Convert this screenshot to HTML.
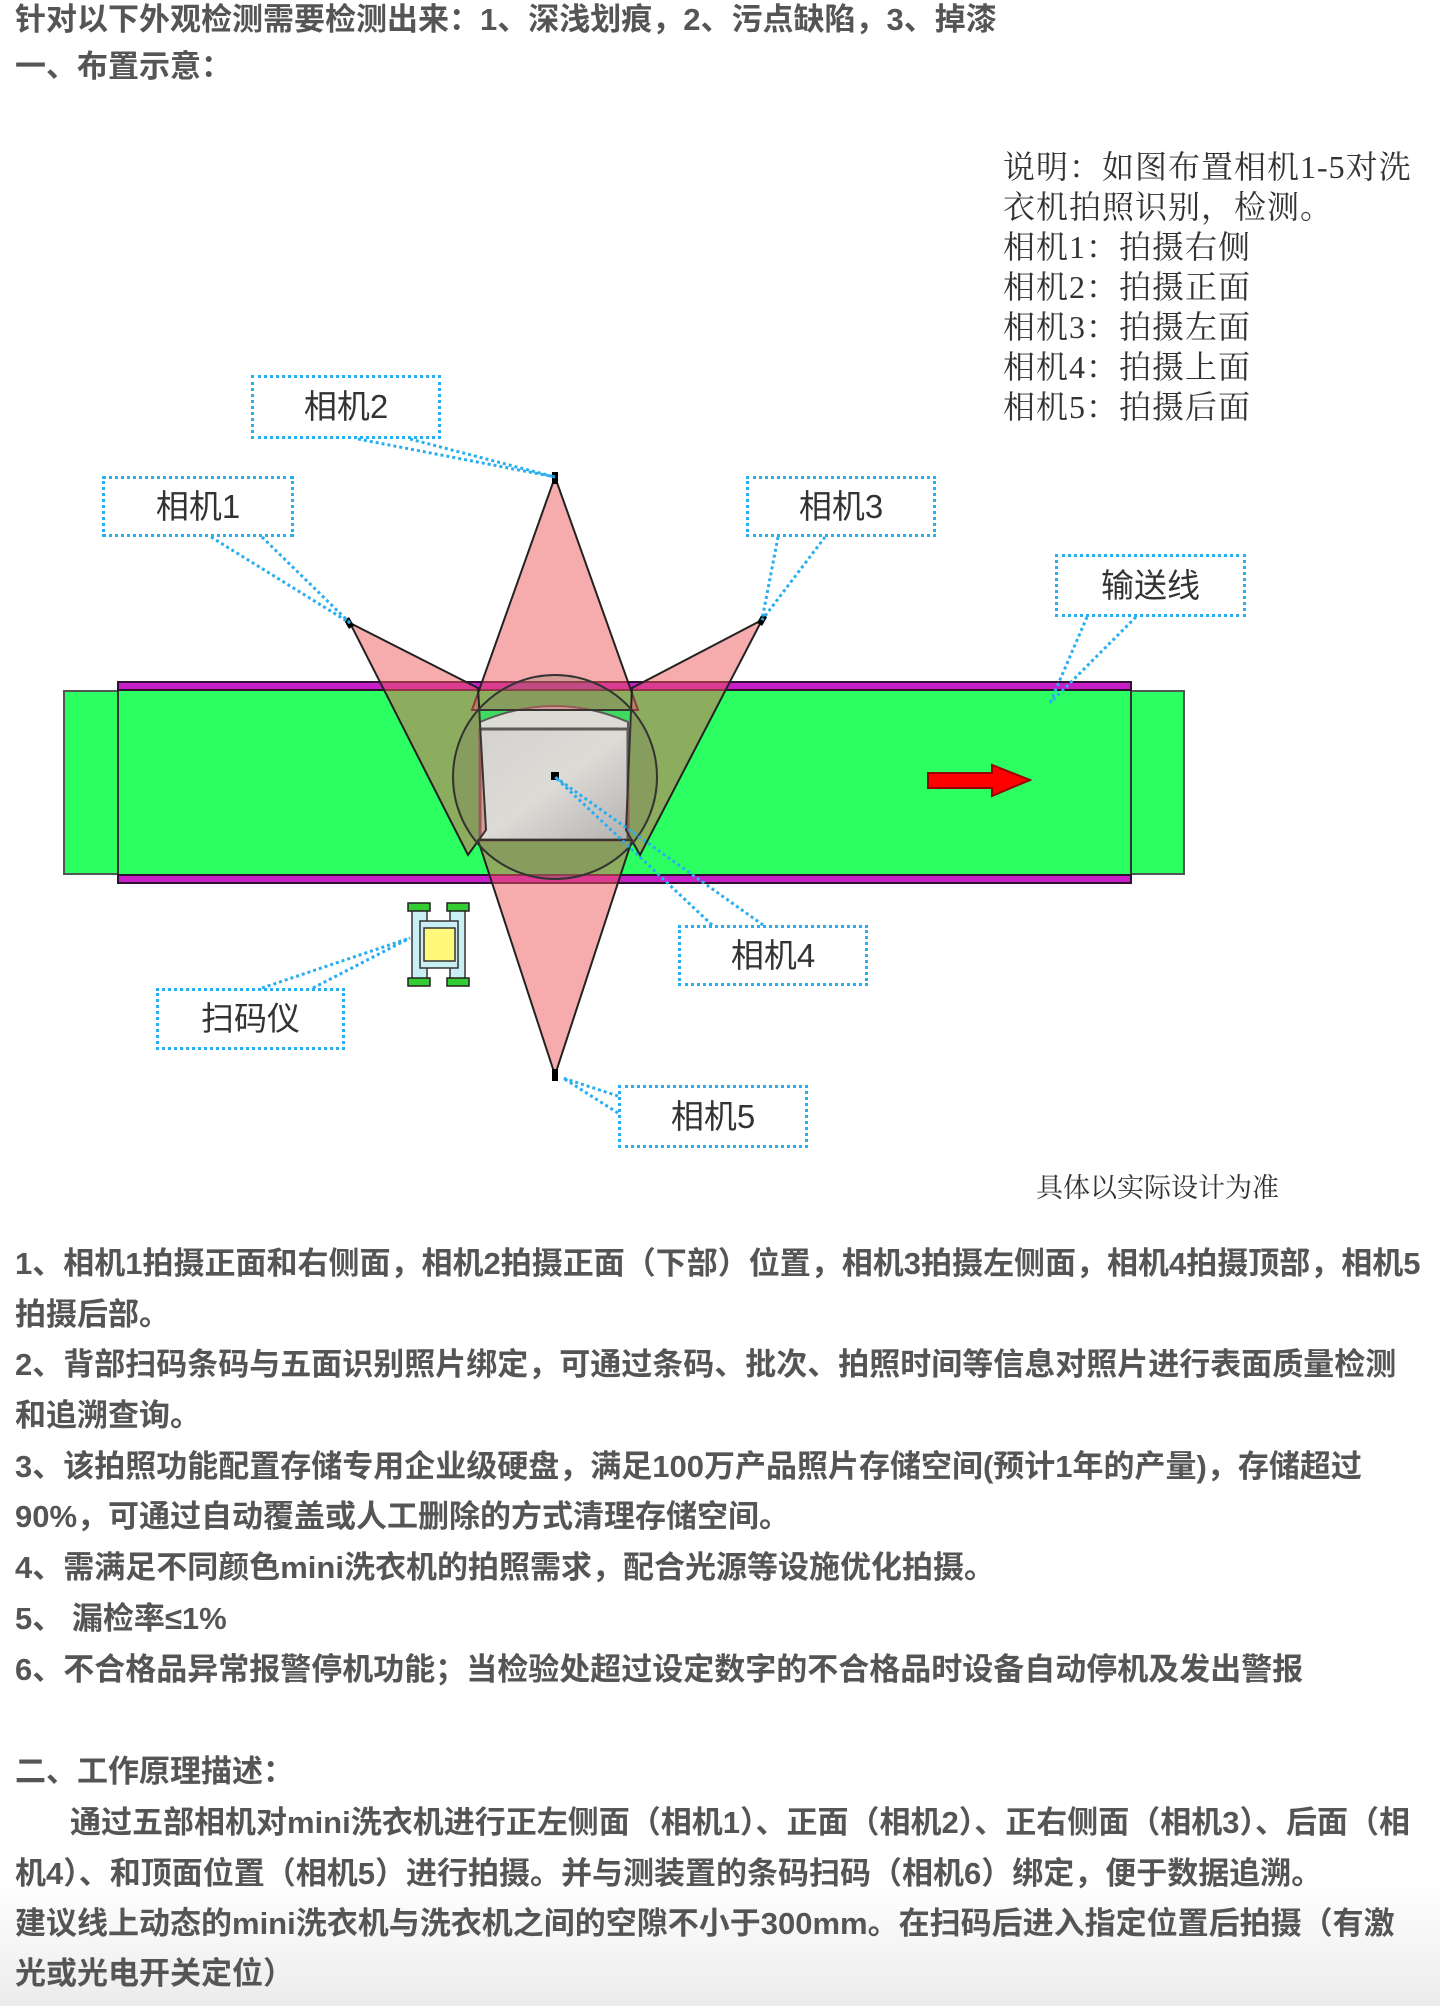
<!DOCTYPE html>
<html><head><meta charset="utf-8"><style>
html,body{margin:0;padding:0;background:#fff;}
body{width:1440px;height:2006px;position:relative;overflow:hidden;}
.t{position:absolute;left:15px;white-space:nowrap;font-family:"Liberation Sans","Noto Sans CJK SC",sans-serif;font-size:31px;font-weight:bold;color:#555;line-height:40px;}
.d{position:absolute;left:1003px;top:147px;font-family:"Liberation Serif","Noto Serif CJK SC",serif;font-size:32px;line-height:40px;color:#333;white-space:nowrap;letter-spacing:1px;}
.lab{position:absolute;border:3px dotted #29aef0;box-sizing:border-box;font-family:"Liberation Sans","Noto Sans CJK SC",sans-serif;font-size:33px;color:#333;text-align:center;}
</style></head><body>
<div style="position:absolute;left:0;top:1880px;width:1440px;height:126px;background:linear-gradient(#fff,#ececec)"></div>
<div class="t" style="top:0px">针对以下外观检测需要检测出来：1、深浅划痕，2、污点缺陷，3、掉漆</div>
<div class="t" style="top:47px">一、布置示意：</div>
<div class="d">说明：如图布置相机1-5对洗<br>衣机拍照识别，检测。<br>相机1：拍摄右侧<br>相机2：拍摄正面<br>相机3：拍摄左面<br>相机4：拍摄上面<br>相机5：拍摄后面</div>

<svg width="1440" height="1200" style="position:absolute;left:0;top:0" xmlns="http://www.w3.org/2000/svg">
<defs>
<linearGradient id="bx" x1="0" y1="0" x2="1" y2="1"><stop offset="0" stop-color="#f4f4f6"/><stop offset="0.5" stop-color="#fff"/><stop offset="1" stop-color="#c8c8cc"/></linearGradient>
</defs>
<rect x="64" y="691" width="1120" height="183" fill="#2bff62" stroke="#555" stroke-width="2"/>
<rect x="118" y="682" width="1013" height="201" fill="#2bff62" stroke="#333" stroke-width="2"/>
<rect x="118" y="682" width="1013" height="8" fill="#c81ec8" stroke="#301030" stroke-width="2"/>
<rect x="118" y="875" width="1013" height="8" fill="#c81ec8" stroke="#301030" stroke-width="2"/>
<!-- box -->
<path d="M480 730 L480 722 Q555 690 628 722 L628 730 Z" fill="#fff" stroke="#555" stroke-width="2"/>
<rect x="480" y="729" width="148" height="111" fill="url(#bx)" stroke="#555" stroke-width="3"/>
<!-- cones -->
<g fill="rgba(238,90,90,0.5)" stroke="#222" stroke-width="2">
<polygon points="555,477 472,710 638,710"/>
<polygon points="555,1075 478,840 632,840"/>
<polygon points="350,623 478,688 486,830 468,855"/>
<polygon points="762,620 632,688 626,830 640,855"/>
</g>
<circle cx="555" cy="777" r="102" fill="rgba(120,110,90,0.25)" stroke="#333" stroke-width="2"/>
<rect x="551" y="772" width="8" height="8" fill="#000"/>
<rect x="552" y="472" width="6" height="12" fill="#000"/>
<rect x="552" y="1069" width="6" height="12" fill="#000"/>
<rect x="346" y="618" width="6" height="10" fill="#000" transform="rotate(-30 349 623)"/>
<rect x="759" y="615" width="6" height="10" fill="#000" transform="rotate(30 762 620)"/>
<!-- arrow -->
<polygon points="928,773 992,773 992,765 1030,780 992,796 992,788 928,788" fill="#f00" stroke="#900" stroke-width="2"/>
<!-- scanner -->
<rect x="412" y="905" width="15" height="80" fill="#c8f0f4" stroke="#333" stroke-width="1.5"/>
<rect x="450" y="905" width="15" height="80" fill="#c8f0f4" stroke="#333" stroke-width="1.5"/>
<rect x="420" y="921" width="38" height="47" fill="#c8f0f4" stroke="#333" stroke-width="1.5"/>
<rect x="424" y="928" width="31" height="33" fill="#fff87a" stroke="#333" stroke-width="1.5"/>
<g fill="#3c3" stroke="#222" stroke-width="1.5">
<rect x="408" y="903" width="22" height="8"/><rect x="447" y="903" width="22" height="8"/>
<rect x="408" y="978" width="22" height="8"/><rect x="447" y="978" width="22" height="8"/>
</g>
<!-- connectors -->
<g stroke="#29aef0" stroke-width="3" stroke-dasharray="3 3" fill="none">
<line x1="358" y1="439" x2="555" y2="477"/><line x1="410" y1="439" x2="555" y2="477"/>
<line x1="211" y1="537" x2="350" y2="623"/><line x1="262" y1="537" x2="350" y2="623"/>
<line x1="778" y1="537" x2="762" y2="620"/><line x1="825" y1="537" x2="762" y2="620"/>
<line x1="1087" y1="617" x2="1050" y2="703"/><line x1="1136" y1="617" x2="1050" y2="703"/>
<line x1="712" y1="925" x2="555" y2="777"/><line x1="763" y1="925" x2="555" y2="777"/>
<line x1="262" y1="988" x2="410" y2="938"/><line x1="313" y1="988" x2="410" y2="938"/>
<line x1="618" y1="1096" x2="563" y2="1078"/><line x1="618" y1="1113" x2="563" y2="1078"/>
</g>
</svg>

<div class="lab" style="left:251px;top:375px;width:190px;height:64px;line-height:58px">相机2</div>
<div class="lab" style="left:102px;top:476px;width:192px;height:61px;line-height:55px">相机1</div>
<div class="lab" style="left:746px;top:476px;width:190px;height:61px;line-height:55px">相机3</div>
<div class="lab" style="left:1055px;top:554px;width:191px;height:63px;line-height:57px">输送线</div>
<div class="lab" style="left:678px;top:925px;width:190px;height:61px;line-height:55px">相机4</div>
<div class="lab" style="left:156px;top:988px;width:189px;height:62px;line-height:56px">扫码仪</div>
<div class="lab" style="left:618px;top:1085px;width:190px;height:63px;line-height:57px">相机5</div>
<div style="position:absolute;left:1036px;top:1166px;font-family:'Liberation Serif','Noto Serif CJK SC',serif;font-size:27px;color:#333;white-space:nowrap">具体以实际设计为准</div>

<div class="t" style="top:1244px">1、相机1拍摄正面和右侧面，相机2拍摄正面（下部）位置，相机3拍摄左侧面，相机4拍摄顶部，相机5</div>
<div class="t" style="top:1295px">拍摄后部。</div>
<div class="t" style="top:1345px">2、背部扫码条码与五面识别照片绑定，可通过条码、批次、拍照时间等信息对照片进行表面质量检测</div>
<div class="t" style="top:1396px">和追溯查询。</div>
<div class="t" style="top:1447px">3、该拍照功能配置存储专用企业级硬盘，满足100万产品照片存储空间(预计1年的产量)，存储超过</div>
<div class="t" style="top:1497px">90%，可通过自动覆盖或人工删除的方式清理存储空间。</div>
<div class="t" style="top:1548px">4、需满足不同颜色mini洗衣机的拍照需求，配合光源等设施优化拍摄。</div>
<div class="t" style="top:1599px">5、 漏检率≤1%</div>
<div class="t" style="top:1650px">6、不合格品异常报警停机功能；当检验处超过设定数字的不合格品时设备自动停机及发出警报</div>
<div class="t" style="top:1752px">二、工作原理描述：</div>
<div class="t" style="top:1803px;left:70px">通过五部相机对mini洗衣机进行正左侧面（相机1）、正面（相机2）、正右侧面（相机3）、后面（相</div>
<div class="t" style="top:1854px">机4）、和顶面位置（相机5）进行拍摄。并与测装置的条码扫码（相机6）绑定，便于数据追溯。</div>
<div class="t" style="top:1904px">建议线上动态的mini洗衣机与洗衣机之间的空隙不小于300mm。在扫码后进入指定位置后拍摄（有激</div>
<div class="t" style="top:1954px">光或光电开关定位）</div>
</body></html>
